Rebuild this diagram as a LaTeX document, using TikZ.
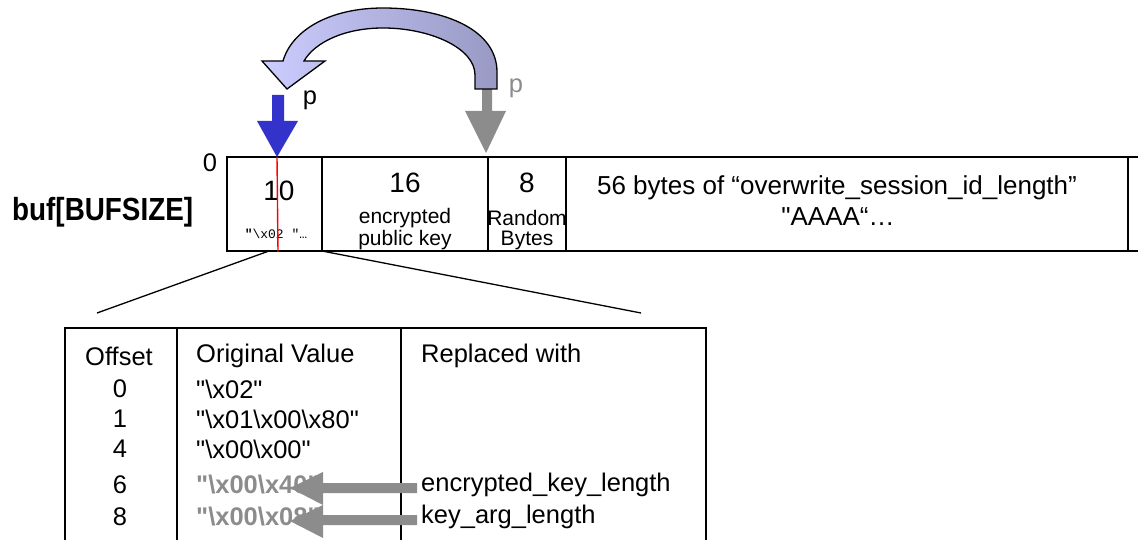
\documentclass[tikz,border=0pt]{standalone}
\usepackage{fontspec}
\setmainfont{Liberation Sans}
\newfontfamily\narrowbold[FakeStretch=0.87]{Liberation Sans Bold}
\setmonofont{Liberation Mono}
\usetikzlibrary{calc}
\definecolor{ptrblue}{HTML}{3333CC}
\definecolor{lavlight}{HTML}{CCCCFF}
\definecolor{lavdark}{HTML}{9999C4}
\definecolor{dither}{HTML}{8C8C8C}
\newcommand{\qq}{\textquotedbl}
\newcommand{\bs}{\textbackslash}
\tikzset{
  frame/.style={line width=1.6pt, line cap=rect},
  txt/.style={inner sep=0pt, font=\fontsize{25.5}{27}\selectfont},
  wide/.style={inner sep=0pt, font=\fontsize{26}{28}\selectfont},
  big/.style={inner sep=0pt, font=\fontsize{28}{30}\selectfont},
  small/.style={inner sep=0pt, font=\fontsize{21}{23}\selectfont},
  greyarrow/.style={fill=dither, draw=none},
  zoomline/.style={line width=1.3pt},
}
\begin{document}
\begin{tikzpicture}[x=1pt, y=-1pt]
\useasboundingbox (0,0) rectangle (1138,540);

% ---- buffer row ----
\coordinate (b0) at (227,157);
\coordinate (b1) at (322,157);
\coordinate (b2) at (488,157);
\coordinate (b3) at (566,157);
\coordinate (b4) at (1128,157);
\draw[frame] (227,157) -- (1138,157);
\draw[frame] (227,251) -- (1138,251);
\foreach \c in {b0,b1,b2,b3,b4} \draw[frame] (\c) -- ++(0,94);

\node[txt] (zero) at (210,163) {0};
\node[inner sep=0pt, anchor=base west, font=\narrowbold\fontsize{32}{34}\selectfont] (buf) at (12,221) {buf[BUFSIZE]};

\node[big] (n10) at (279,191) {10};
\node[inner sep=0pt, font=\ttfamily\fontsize{13}{15}\selectfont] (x02) at (276,234) {\textbf{\qq}\bs x02 \qq\ldots};
\node[big] (n16) at (405,183) {16};
\node[small] (enc) at (405,218) {encrypted};
\node[small] (pub) at (405,240) {public key};
\node[big] (n8) at (527,183) {8};
\node[small] (rnd) at (527,218) {Random};
\node[small] (byt) at (527,240) {Bytes};
\node[wide] (ow1) at (837,188) {56 bytes of “overwrite\_session\_id\_length”};
\node[wide] (ow2) at (838,217) {\qq AAAA“\ldots};

% red marker through the first field
\coordinate (redtop) at (277,157);
\coordinate (redbot) at (278,252);
\draw[red, line width=1.4pt] (redtop) -- (redbot);

% ---- pointer arrows ----
\fill[ptrblue] (272,95) -- (284,95) -- (284,121) -- (298,121) -- (277,157)
  -- (257,121) -- (272,121) -- cycle;
\node[txt] (p1) at (310,100) {p};

\fill[dither] (482,89) -- (492,89) -- (492,111) -- (506,111) -- (486,153)
  -- (465,111) -- (482,111) -- cycle;
\node[txt, text=dither] (p2) at (516,88) {p};

% curved move arrow
\draw[line width=1.3pt, line join=miter, left color=lavlight, right color=lavdark]
  (497,89) -- (497,72) .. controls (497,30) and (445,8) .. (383,8)
  .. controls (330,8) and (292,30) .. (283,61)
  -- (262,61) -- (287,89) -- (325,61) -- (304,61)
  .. controls (315,42) and (345,28) .. (383,28)
  .. controls (430,28) and (475,48) .. (475,75)
  -- (475,89) -- cycle;

% ---- zoom lines to the table ----
\coordinate (zl) at (97,313);
\coordinate (zr) at (641,313);
\draw[zoomline] (269,251) -- (zl);
\draw[zoomline] (322,251) -- (zr);

% ---- offset table ----
\draw[frame] (65,328) -- (706,328);
\foreach \x in {65,177,401,706} \draw[frame] (\x,328) -- (\x,545);

\node[txt] (hoff) at (119,356) {Offset};
\node[txt, anchor=west] (horig) at (196,356) {Original Value};
\node[txt, anchor=west] (hrep) at (421,356) {Replaced with};

\node[txt] (o0) at (120,389) {0};
\node[txt] (o1) at (120,419) {1};
\node[txt] (o4) at (120,449) {4};
\node[txt] (o6) at (120,485) {6};
\node[txt] (o8) at (120,517) {8};

\node[txt, anchor=west] (v0) at (196,389) {\qq\bs x02\qq};
\node[txt, anchor=west] (v1) at (196,419) {\qq\bs x01\bs x00\bs x80\qq};
\node[txt, anchor=west] (v4) at (196,449) {\qq\bs x00\bs x00\qq};
\node[txt, anchor=west, text=dither, font=\bfseries\fontsize{25.5}{27}\selectfont] (v6) at (196,485) {\qq\bs x00\bs x40\qq};
\node[txt, anchor=west, text=dither, font=\bfseries\fontsize{25.5}{27}\selectfont] (v8) at (196,517) {\qq\bs x00\bs x08\qq};

\node[txt, anchor=west] (r6) at (421,485) {encrypted\_key\_length};
\node[txt, anchor=west] (r8) at (421,517) {key\_arg\_length};

% grey arrows from the new names back onto the old values
\coordinate (s6) at (r6.west |- o6);
\coordinate (s8) at (r8.west |- o8);
\fill[greyarrow] ($(s6)+(-4,-2)$) -- (323,483) -- (323,472) -- (290,488)
  -- (323,505) -- (323,493) -- ($(s6)+(-4,8)$) -- cycle;
\fill[greyarrow] ($(s8)+(-4,-2)$) -- (323,515) -- (323,505) -- (290,521)
  -- (323,538) -- (323,525) -- ($(s8)+(-4,8)$) -- cycle;
\end{tikzpicture}
\end{document}
